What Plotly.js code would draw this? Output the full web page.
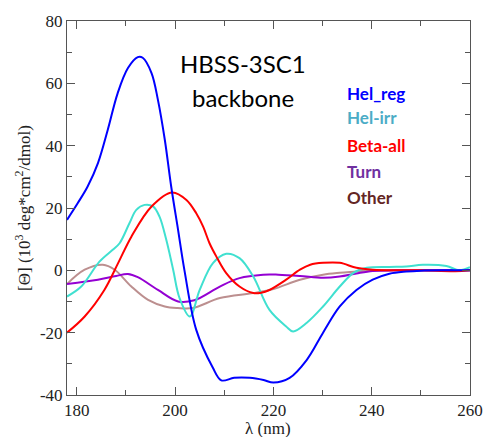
<!DOCTYPE html>
<html><head><meta charset="utf-8">
<script src="https://cdn.plot.ly/plotly-3.0.1.min.js"></script>
<style>html,body{margin:0;padding:0;background:#fff}#chart{width:487px;height:437px}</style>
</head><body><div id="chart"></div>
<script>
const helRegX = [178, 180.2, 182.2, 184.3, 186.3, 188.3, 190.4, 192.4, 193.4, 195.2, 196.5, 197.9, 199.2, 200.6, 201.9, 204.3, 207.6, 209.4, 212, 215.2, 218, 220, 223.3, 226.8, 230.1, 233.5, 236.9, 240.2, 243.6, 247, 250, 255, 260];
const helRegY = [16.2, 21.6, 26.9, 34.4, 45.1, 56.8, 64.9, 68.4, 68.2, 63.3, 54.7, 41.9, 26.9, 13, 0, -19.1, -31, -35.3, -34.5, -34.5, -35.2, -36, -34.5, -28.7, -20, -11.6, -6.3, -3, -1.1, -0.4, -0.1, 0, 0];
const helIrrX = [178, 180.9, 184.6, 187.3, 188.7, 190.7, 192.1, 193.8, 195.5, 196.8, 198.2, 199.6, 200.9, 203, 205, 207.7, 210.4, 213.1, 215.9, 219.2, 222.6, 224, 226.8, 230.1, 233.5, 236.3, 239, 243.6, 247, 250.4, 255.2, 257.8, 260];
const helIrrY = [-8.4, -5.2, 2.8, 6.6, 8.7, 15.1, 19.4, 21, 20.5, 17.3, 9.8, 0.2, -8.9, -14.8, -6.3, 2.3, 5.3, 3.9, -2, -12.7, -18, -19.6, -16.8, -11.6, -5.2, -0.8, 0.8, 1.1, 1.2, 1.8, 1.4, 0, 1];
const betaX = [178, 181.6, 185.6, 188.4, 191.1, 195.2, 199.4, 202.3, 204.3, 205.7, 207, 208.4, 210.4, 213.1, 215.9, 217.5, 219.2, 222.6, 225.4, 227.5, 230.1, 233.5, 236.9, 240.2, 245, 250, 257, 260];
const betaY = [-20, -14.8, -6.3, 2.3, 10.8, 20.5, 25, 22.6, 18.3, 14, 8.7, 4.4, -0.9, -5.2, -7.3, -7.2, -6.3, -3, 0.2, 1.8, 2.4, 2.4, 0.8, 0.2, 0, 0, -0.3, 0];
const turnX = [178, 184.3, 188, 190.4, 192.4, 196.5, 200.6, 203.9, 209.1, 213.1, 217.9, 221, 225.4, 230.1, 233.5, 236.9, 240.2, 245, 250, 260];
const turnY = [-4.4, -3, -1.8, -1.2, -2.2, -6.3, -10, -9.6, -5.2, -2.5, -1.4, -1.4, -1.8, -2.4, -2, -1, -0.2, 0, 0, 0];
const otherX = [178, 181.6, 185.3, 187.7, 191.1, 194.5, 197.9, 200.5, 203.6, 209.1, 215.9, 220, 225.4, 230.1, 233.5, 236.9, 240, 250, 260];
const otherY = [-4.4, 0.2, 1.8, 0.2, -5.2, -9.5, -11.6, -12.1, -12.1, -8.9, -7.3, -6, -3, -1.4, -0.8, -0.4, 0, 0, 0];
const seriesNames = ['Hel_reg', 'Hel-irr', 'Beta-all', 'Turn', 'Other'];
const lineColors = ['#0000ff', '#40e0d0', '#ff0000', '#9400d3', '#bc8f8f'];
const labelColors = ['#0000ff', '#4bacc6', '#ff0000', '#7030a0', '#632523'];
const xTicks = [180, 200, 220, 240, 260];
const yTicks = [-40, -20, 0, 20, 40, 60, 80];

const xs = [helRegX, helIrrX, betaX, turnX, otherX];
const ys = [helRegY, helIrrY, betaY, turnY, otherY];
const order = [4, 3, 1, 2, 0];
const traces = order.map(i => ({
  x: xs[i], y: ys[i], type: 'scatter', mode: 'lines', name: seriesNames[i],
  line: {color: lineColors[i], width: 2, shape: 'spline', smoothing: 1},
  showlegend: false, hoverinfo: 'skip'
}));
const serif = 'Liberation Serif, DejaVu Serif, serif';
const legY = [93, 118, 145, 171, 197];
const annotations = seriesNames.map((n, i) => ({
  text: '<b>' + n + '</b>', xref: 'paper', yref: 'paper',
  x: (345 - 67) / 403, y: 1 - (legY[i] - 21) / 374, xanchor: 'left', yanchor: 'middle',
  showarrow: false, font: {family: 'Lato', size: 17, color: labelColors[i]}
}));
annotations.push({text: 'HBSS-3SC1', xref: 'paper', yref: 'paper', x: (243 - 67) / 403, y: 1 - (63 - 21) / 374,
  xanchor: 'center', yanchor: 'middle', showarrow: false, font: {family: 'Lato', size: 24, color: '#000'}});
annotations.push({text: 'backbone', xref: 'paper', yref: 'paper', x: (243 - 67) / 403, y: 1 - (97 - 21) / 374,
  xanchor: 'center', yanchor: 'middle', showarrow: false, font: {family: 'Lato', size: 24, color: '#000'}});
annotations.push({text: 'λ (nm)', xref: 'paper', yref: 'paper', x: (268 - 67) / 403, y: -(429 - 395) / 374,
  xanchor: 'center', yanchor: 'middle', showarrow: false, font: {family: serif, size: 17, color: '#222'}});

const axisCommon = {
  showline: true, linecolor: '#555', linewidth: 1, mirror: 'ticks', ticks: 'inside', ticklen: 8, tickcolor: '#555',
  showgrid: false, zeroline: false,
  tickfont: {family: serif, size: 17, color: '#222'},
  minor: {ticks: 'inside', ticklen: 5, tickcolor: '#555', dtick: 10, showgrid: false}
};
const layout = {
  width: 487, height: 437, margin: {l: 67, r: 17, t: 21, b: 42},
  paper_bgcolor: '#fff', plot_bgcolor: '#fff', showlegend: false,
  font: {family: serif},
  xaxis: Object.assign({}, axisCommon, {range: [178, 260], tickvals: xTicks, ticktext: xTicks.map(String)}),
  yaxis: Object.assign({}, axisCommon, {range: [-40, 80], tickvals: yTicks, ticktext: yTicks.map(String),
    title: {text: '[Θ] (10<sup>3</sup> deg*cm<sup>2</sup>/dmol)', standoff: 4, font: {family: serif, size: 17, color: '#222'}}}),
  annotations: annotations
};
Plotly.newPlot('chart', traces, layout, {displayModeBar: false, staticPlot: true});
</script></body></html>
